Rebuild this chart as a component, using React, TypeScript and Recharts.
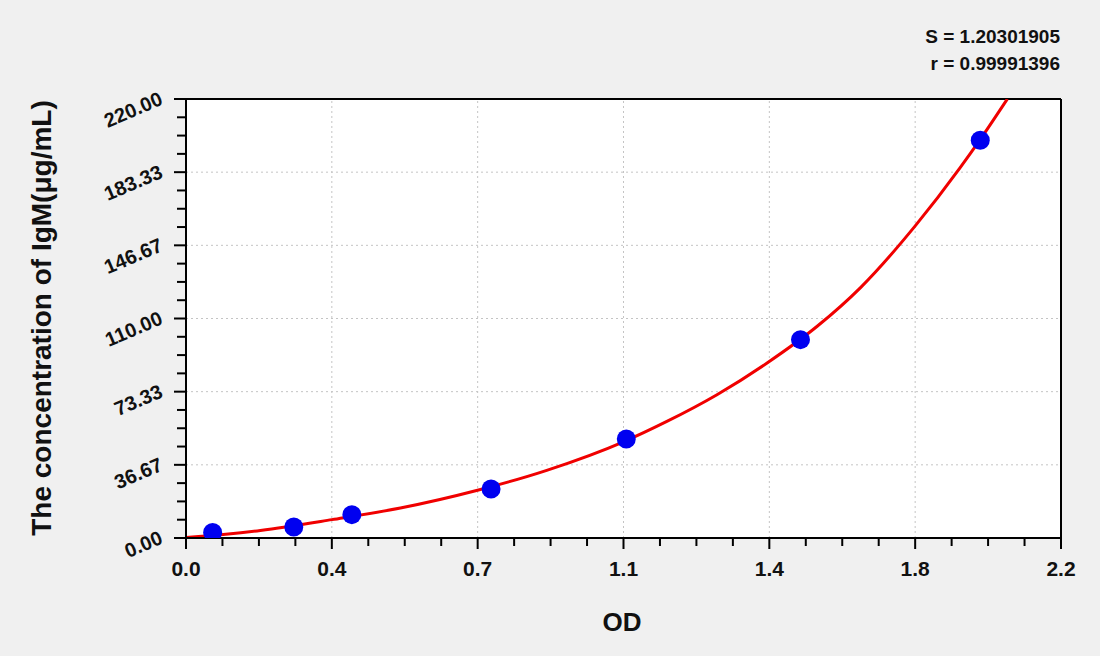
import {
  ComposedChart,
  Line,
  ReferenceLine,
  Scatter,
  XAxis,
  YAxis,
  CartesianGrid,
} from "recharts"

// standard points (OD vs concentration)
const standardOD = [0.067, 0.271, 0.417, 0.767, 1.107, 1.545, 1.997]
const standardConc = [2.8, 5.5, 11.7, 24.6, 49.6, 99.4, 199.3]

// fitted curve
const curveOD = [0, 0.1, 0.187, 0.367, 0.539, 0.733, 0.907, 1.1, 1.209, 1.335, 1.461, 1.587, 1.696, 1.833, 1.946, 1.997, 2.065]
const curveConc = [0.3, 1.9, 3.8, 9.2, 15, 23.9, 33.9, 48.2, 58.4, 71.8, 87.7, 106.1, 125.5, 156.3, 185.5, 199.8, 220]

const xTickLabels = ["0.0", "0.4", "0.7", "1.1", "1.4", "1.8", "2.2"]
const yTickLabels = ["0.00", "36.67", "73.33", "110.00", "146.67", "183.33", "220.00"]

const X_MAX = 2.2
const Y_MAX = 220
const MINOR_STEPS = 4

const fitText = ["S = 1.20301905", "r = 0.99991396"]

const FONT = "'Liberation Sans', Arial, sans-serif"
const PLOT_LEFT = 186
const PLOT_TOP = 99
const PLOT_BOTTOM = 538

const xMajor = xTickLabels.map((_, i) => (i * X_MAX) / (xTickLabels.length - 1))
const yMajor = yTickLabels.map((_, i) => (i * Y_MAX) / (yTickLabels.length - 1))
const xAllTicks = Array.from({ length: (xTickLabels.length - 1) * MINOR_STEPS + 1 }, (_, i) => (i * X_MAX) / ((xTickLabels.length - 1) * MINOR_STEPS))
const yAllTicks = Array.from({ length: (yTickLabels.length - 1) * MINOR_STEPS + 1 }, (_, i) => (i * Y_MAX) / ((yTickLabels.length - 1) * MINOR_STEPS))

const points = standardOD.map((x, i) => ({ x, y: standardConc[i] }))
const curve = curveOD.map((x, i) => ({ x, y: curveConc[i] }))

function majorIndex(value: number, majors: number[]): number {
  return majors.findIndex((m) => Math.abs(m - value) < 1e-6)
}

function XTick(props: any) {
  const { x, payload } = props
  const idx = majorIndex(payload.value, xMajor)
  const len = idx >= 0 ? 11 : 8
  return (
    <g>
      <line x1={x} x2={x} y1={PLOT_BOTTOM} y2={PLOT_BOTTOM + len} stroke="#000" strokeWidth={2} />
      {idx >= 0 && (
        <text x={x} y={PLOT_BOTTOM + 38} textAnchor="middle" fontFamily={FONT} fontWeight="bold" fontSize={21} fill="#111">
          {xTickLabels[idx]}
        </text>
      )}
    </g>
  )
}

function YTick(props: any) {
  const { y, payload } = props
  const idx = majorIndex(payload.value, yMajor)
  const len = idx >= 0 ? 12 : 9
  const tx = PLOT_LEFT - 22
  const ty = y + 5
  return (
    <g>
      <line x1={PLOT_LEFT - len} x2={PLOT_LEFT} y1={y} y2={y} stroke="#000" strokeWidth={2} />
      {idx >= 0 && (
        <text
          x={tx}
          y={ty}
          textAnchor="end"
          fontFamily={FONT}
          fontWeight="bold"
          fontSize={20}
          fill="#111"
          transform={`rotate(-23, ${tx}, ${ty})`}
        >
          {yTickLabels[idx]}
        </text>
      )}
    </g>
  )
}

export default function App() {
  return (
    <div style={{ position: "absolute", left: 0, top: 0, width: 1100, height: 656, background: "#f0f0f0" }}>
      <ComposedChart width={1100} height={656} margin={{ top: PLOT_TOP, right: 39, bottom: 0, left: 0 }}>
        <CartesianGrid fill="#fff" horizontal={false} vertical={false} />
        {xMajor.slice(1, -1).map((v) => (
          <ReferenceLine key={`gx${v}`} x={v} stroke="#c4c4c4" strokeDasharray="2 3" />
        ))}
        {yMajor.slice(1, -1).map((v) => (
          <ReferenceLine key={`gy${v}`} y={v} stroke="#c4c4c4" strokeDasharray="2 3" />
        ))}
        <ReferenceLine y={Y_MAX} stroke="#000" strokeWidth={2} />
        <ReferenceLine x={X_MAX} stroke="#000" strokeWidth={2} />
        <XAxis
          type="number"
          dataKey="x"
          domain={[0, X_MAX]}
          ticks={xAllTicks}
          interval={0}
          height={118}
          tickSize={0}
          tickMargin={0}
          tickLine={false}
          tick={<XTick />}
          axisLine={{ stroke: "#000", strokeWidth: 2 }}
          allowDataOverflow
        />
        <YAxis
          type="number"
          dataKey="y"
          domain={[0, Y_MAX]}
          ticks={yAllTicks}
          interval={0}
          width={PLOT_LEFT}
          tickSize={0}
          tickMargin={0}
          tickLine={false}
          tick={<YTick />}
          axisLine={{ stroke: "#000", strokeWidth: 2 }}
          allowDataOverflow
        />
        <Scatter data={points} dataKey="y" fill="#0000f0" shape={(p: any) => <circle cx={p.cx} cy={p.cy} r={9.5} fill="#0000f0" />} isAnimationActive={false} />
        <Line data={curve} dataKey="y" type="monotone" stroke="#f00000" strokeWidth={3} dot={false} activeDot={false} isAnimationActive={false} />
      </ComposedChart>
      <svg width={1100} height={656} style={{ position: "absolute", left: 0, top: 0, pointerEvents: "none" }}>
        <text
          x={41}
          y={318}
          textAnchor="middle"
          dominantBaseline="central"
          fontFamily={FONT}
          fontWeight="bold"
          fontSize={28}
          fill="#111"
          transform="rotate(-90, 41, 318)"
        >
          The concentration of IgM(μg/mL)
        </text>
        <text x={622} y={631} textAnchor="middle" fontFamily={FONT} fontWeight="bold" fontSize={26} fill="#111">
          OD
        </text>
        {fitText.map((t, i) => (
          <text key={t} x={1060} y={43 + i * 27} textAnchor="end" fontFamily={FONT} fontWeight="bold" fontSize={19} fill="#111">
            {t}
          </text>
        ))}
      </svg>
    </div>
  )
}
